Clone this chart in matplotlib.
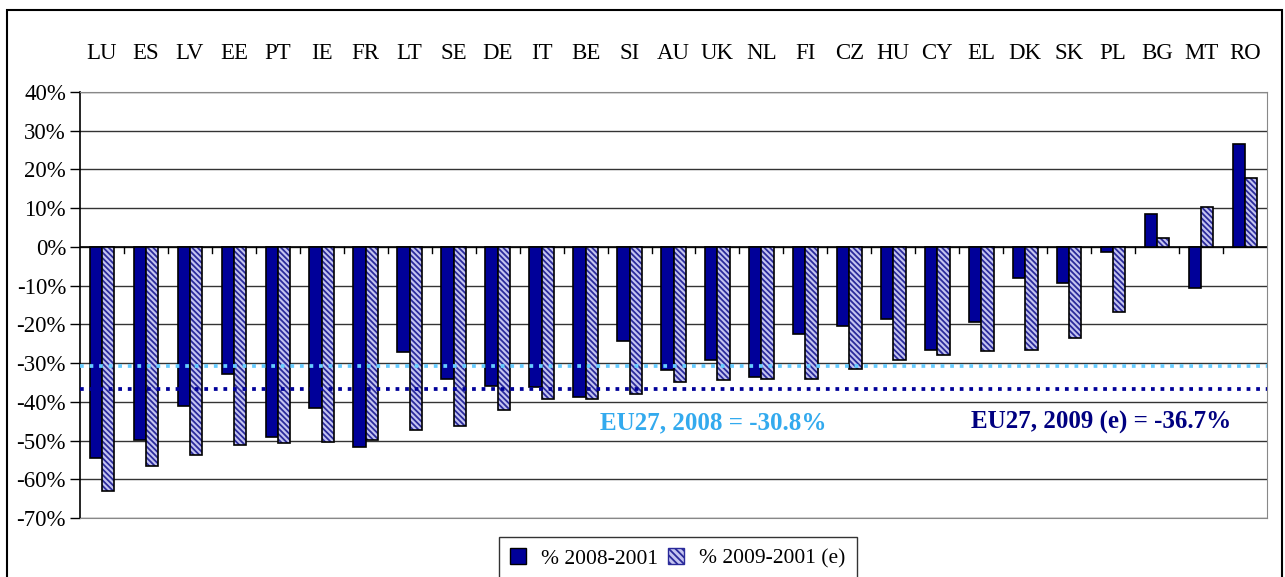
import numpy as np
import matplotlib.pyplot as plt
from matplotlib.patches import Patch, Rectangle
from matplotlib.ticker import FuncFormatter, MultipleLocator

countries = ['LU', 'ES', 'LV', 'EE', 'PT', 'IE', 'FR', 'LT', 'SE', 'DE', 'IT', 'BE', 'SI',
             'AU', 'UK', 'NL', 'FI', 'CZ', 'HU', 'CY', 'EL', 'DK', 'SK', 'PL', 'BG', 'MT', 'RO']
# % change 2008 vs 2001
change_2008 = [-54.6, -49.9, -41.0, -32.7, -49.0, -41.5, -51.6, -27.1, -34.0, -35.8, -36.1,
               -38.8, -24.3, -31.8, -29.2, -33.5, -22.6, -20.5, -18.7, -26.5, -19.4, -8.0,
               -9.4, -1.4, 8.6, -10.7, 26.7]
# % change 2009 (estimate) vs 2001
change_2009 = [-63.0, -56.5, -53.8, -51.2, -50.6, -50.3, -49.9, -47.3, -46.3, -42.0, -39.3,
               -39.3, -38.0, -34.9, -34.4, -34.0, -34.0, -31.4, -29.1, -27.8, -26.9, -26.5,
               -23.5, -16.9, 2.2, 10.3, 17.8]
eu27_2008 = -30.8
eu27_2009 = -36.7

W, H = 1285, 577
fig = plt.figure(figsize=(W / 100, H / 100), dpi=100)
plt.rcParams['font.family'] = ['Liberation Serif', 'DejaVu Serif']
plt.rcParams['hatch.linewidth'] = 1.3

# plot area in pixels
left, right, top, bottom = 80, 1267, 92, 518
ax = fig.add_axes([left / W, 1 - bottom / H, (right - left) / W, (bottom - top) / H])

x = np.arange(len(countries))
bw = 0.28
off = 0.14

navy = '#000099'
hatch_face = '#c4c4f0'
hatch_col = '#2a2a9a'
ax.bar(x - off, change_2008, bw, color=navy, edgecolor='black', linewidth=1.2, zorder=3)
# hatched bars: hatch layer first, then black outline
ax.bar(x + off, change_2009, bw, color=hatch_face, edgecolor=hatch_col, hatch='\\\\\\\\\\\\',
       linewidth=0, zorder=3)
ax.bar(x + off, change_2009, bw, color='none', edgecolor='black', linewidth=1.2, zorder=4)

ax.set_xlim(-0.5, len(countries) - 0.5)
ax.set_ylim(-70, 40)
ax.yaxis.set_major_locator(MultipleLocator(10))
ax.yaxis.set_major_formatter(FuncFormatter(lambda v, p: '{}%'.format(int(round(v)))))
ax.tick_params(axis='y', labelsize=16.5, length=7, width=1, direction='out', pad=3)
ax.grid(axis='y', color='#333333', linewidth=1, zorder=0)

# x axis at zero with ticks between categories
ax.set_xticks([])
ax.axhline(0, color='black', linewidth=1.2, zorder=2)
for b in np.arange(0.5, len(countries) - 0.5, 1):
    ax.plot([b, b], [0, -1.6], color='black', linewidth=1, zorder=2)

for s in ['top', 'right', 'bottom']:
    ax.spines[s].set_color('#888888')
ax.spines['left'].set_color('black')
ax.spines['left'].set_linewidth(1.2)

# country names above the plot
for i, c in enumerate(countries):
    ax.text(i, 1.091, c, transform=ax.get_xaxis_transform(), ha='center', va='center',
            fontsize=16.5)

# EU27 reference lines
ax.axhline(eu27_2008, color='#66ccff', linewidth=2.7, linestyle=(0, (1, 1.55)),
           dash_capstyle='butt', zorder=5, clip_on=False)
ax.axhline(eu27_2009, color=navy, linewidth=2.7, linestyle=(0, (1, 1.55)),
           dash_capstyle='butt', zorder=5, clip_on=False)
ax.text(13.9, -45.3, 'EU27, 2008 = -30.8%', color='#33aaee', fontsize=18,
        fontweight='bold', ha='center', va='center')
ax.text(22.73, -45.3, 'EU27, 2009 (e) = -36.7%', color='#000080', fontsize=18,
        fontweight='bold', ha='center', va='center')

handles = [Patch(facecolor=navy, edgecolor='black', label='% 2008-2001'),
           Patch(facecolor=hatch_face, edgecolor=hatch_col, hatch='\\\\\\\\\\', label='% 2009-2001 (e)')]
leg = fig.legend(handles=handles, loc='lower center', bbox_to_anchor=(678 / W, -0.004),
                 ncol=2, fontsize=15.5, frameon=True, fancybox=False, edgecolor='black',
                 handlelength=0.75, handleheight=0.75, columnspacing=0.45, handletextpad=0.7,
                 borderpad=0.5, borderaxespad=0)
leg.get_frame().set_linewidth(1)

# outer chart border (bottom edge falls outside the image)
fig.patches.append(Rectangle((7 / W, -0.05), (1282 - 7) / W, 1.05 - 10 / H, fill=False,
                             edgecolor='black', linewidth=1.5, transform=fig.transFigure))

fig.savefig('out.png', dpi=100)
